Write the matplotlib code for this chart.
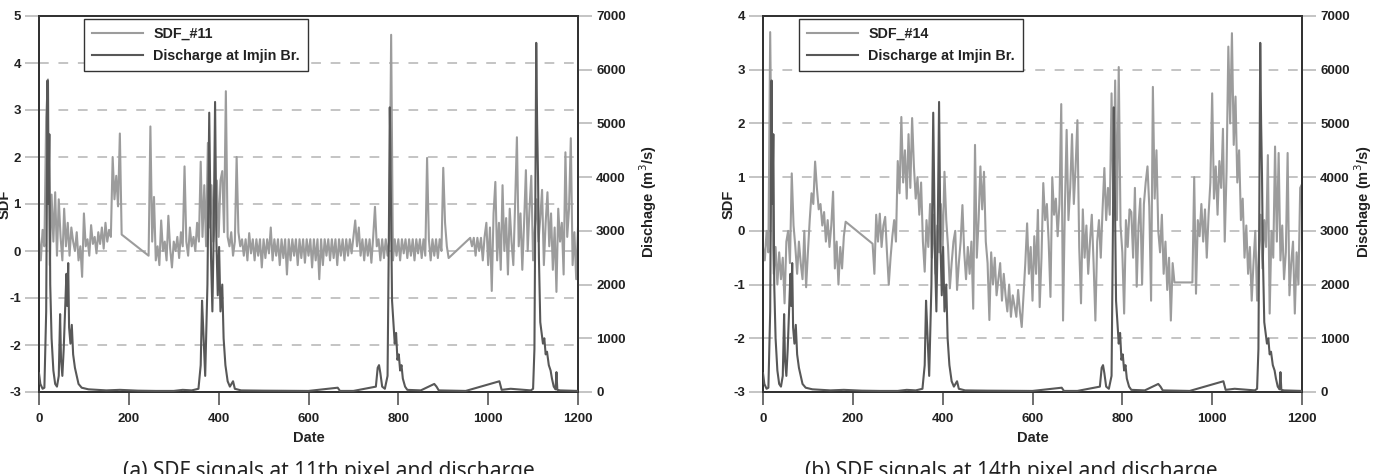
import numpy as np
import matplotlib
matplotlib.use('Agg')
import matplotlib.pyplot as plt

plt.rcParams['font.family'] = ['Liberation Sans', 'DejaVu Sans']
plt.rcParams['axes.unicode_minus'] = False

# ---- data ----
# discharge at Imjin Br. (m3/s), shared by both panels
q_days = [0, 3, 8, 12, 16, 19, 21, 23, 25, 28, 32, 36, 40, 44, 47, 49, 52, 55, 58, 61,
          63, 65, 67, 70, 73, 76, 80, 84, 88, 95, 110, 130, 150, 180, 220, 260, 300, 320,
          340, 355, 360, 363, 366, 370, 375, 379, 383, 386, 389, 392, 395, 398, 401, 404,
          408, 411, 415, 420, 425, 432, 436, 450, 500, 600, 665, 670, 700, 750, 754, 757,
          760, 764, 770, 776, 779, 781, 783, 786, 789, 792, 795, 798, 801, 804, 807, 810,
          815, 820, 850, 880, 885, 890, 950, 1025, 1030, 1050, 1095, 1100, 1103, 1105,
          1107, 1109, 1111, 1113, 1116, 1119, 1122, 1125, 1128, 1131, 1135, 1139, 1142,
          1146, 1150, 1152, 1154, 1160, 1200]
q_vals = [350, 150, 60, 80, 1500, 5800, 3500, 4800, 2000, 1000, 400, 150, 100, 300, 1450,
          600, 300, 800, 1500, 2200, 1600, 2400, 1200, 900, 1250, 700, 450, 300, 150, 80,
          50, 40, 30, 40, 25, 20, 20, 40, 30, 60, 500, 1700, 1100, 300, 2000, 5200, 2500,
          1500, 3000, 5400, 2800, 1800, 2700, 1500, 2000, 1000, 500, 200, 100, 200, 60, 30,
          25, 20, 80, 20, 20, 100, 450, 500, 350, 100, 60, 300, 3000, 5300, 4000, 1700,
          1300, 900, 1100, 600, 700, 400, 500, 250, 100, 40, 30, 150, 100, 30, 20, 200, 40,
          60, 30, 60, 800, 3500, 6500, 5000, 4000, 2500, 1300, 1100, 900, 1000, 700, 750,
          500, 400, 250, 100, 50, 370, 40, 30, 20]

# SDF_#11, sampled every 4 days in three pieces (gaps drawn as straight lines)
sdf11_a = [0.3, -0.2, 0.45, 0.1, 2.85, 3.65, -0.3, 1.2, 0.2, 1.25, -0.1, 1.1, 0.3, -0.2,
           0.9, 0.1, 0.6, -0.1, 0.5, 0.2, 0.0, 0.4, -0.2, 0.1, -0.55, 0.8, 0.1, 0.25, -0.1,
           0.55, 0.15, 0.3, -0.05, 0.4, 0.15, 0.5, 0.05, 0.6, 0.2, 0.45, 0.3, 2.0, 1.1, 1.6,
           0.95, 2.5, 0.35]
sdf11_b = [-0.1, 2.65, 0.2, 1.15, -0.2, 0.1, -0.3, 0.65, 0.0, 0.2, -0.2, 0.75, 0.05, -0.35,
           0.2, 0.0, 0.3, -0.15, 0.4, 0.1, 1.8, 0.2, -0.1, 0.5, 0.1, 0.3, 0.0, 0.6, 0.2, 1.9,
           0.3, 1.4, 0.1, 2.3, 0.5, 1.4, 0.2, 0.6, 1.5, 0.3, 1.5, 1.7, 0.4, 3.4, 0.3, 0.1,
           0.4, -0.1, 0.2, 2.0, 0.4, 0.1, 0.25, -0.1, 0.25, -0.2, 0.38, -0.05, 0.25, -0.2,
           0.25, -0.1, 0.25, -0.35, 0.25, -0.15, 0.25, -0.05, 0.5, -0.2, 0.25, -0.1, 0.25,
           -0.3, 0.25, -0.15, 0.25, -0.5, 0.25, -0.2, 0.25, -0.1, 0.25, -0.3, 0.25, -0.15,
           0.25, -0.25, 0.25, -0.1, 0.25, -0.35, 0.25, -0.2, 0.25, -0.6, 0.25, -0.3, 0.25,
           -0.1, 0.25, -0.2, 0.25, -0.15, 0.25, -0.3, 0.25, -0.1, 0.25, -0.2, 0.25, -0.1,
           0.25, -0.05, 0.3, 0.65, 0.1, 0.5, -0.1, 0.25, -0.2, 0.25, -0.1, 0.25, -0.25, 0.3,
           0.94, 0.1, 0.25, -0.2, 0.25, -0.15, 0.25, -0.1, 0.25, 4.6, -0.2, 0.25, -0.1, 0.25,
           -0.2, 0.25, -0.05, 0.25, -0.15, 0.25, -0.1, 0.25, -0.2, 0.25, -0.05, 0.25, -0.15,
           0.25, -0.1, 1.98, 0.25, -0.2, 0.25, -0.1, 0.25, -0.15, 0.25, 0.0, 1.77, 0.6, 0.1,
           -0.15]
sdf11_c = [0.28, 0.1, 0.28, -0.1, 0.28, 0.0, 0.28, -0.2, 0.3, 0.6, -0.3, 0.5, -0.85, 0.8,
           1.47, -0.2, 0.6, -0.4, 1.4, 0.0, 0.7, -0.5, 0.9, 0.2, -0.3, 1.0, 2.42, 0.1, 0.8,
           -0.4, 0.6, 1.72, 0.0, 0.9, 1.6, -0.2, 0.5, 1.1, 0.2, 0.7, 1.3, -0.3, 0.6, 1.25,
           0.1, 0.8, -0.4, 0.5, -0.87, 0.9, 0.2, 0.6, -0.5, 2.1, 0.3, 0.9, 2.4, -0.3, 0.4,
           -0.6, 0.5]

# SDF_#14
sdf14_a = [-0.3, -0.55, 0.0, -0.4, 3.7, 0.4, -0.8, -0.3, -1.0, -0.4, -0.9, -0.5, -1.35,
           -0.2, 0.0, -0.6, 1.07, 0.1, -0.3, -0.8, -0.2, -0.6, -0.9, 0.0, -1.05, -0.4, 0.2,
           0.7, 0.5, 1.29, 0.8, 0.4, 0.5, 0.1, 0.35, -0.2, 0.2, -0.3, 0.1, 0.73, -0.7, -0.2,
           -1.0, -0.3, -0.7, -0.1, 0.17]
sdf14_b = [-0.24, -0.8, 0.3, -0.2, 0.32, -0.3, 0.1, 0.26, -0.4, -1.0, -0.5, -0.1, 0.2, -0.2,
           1.3, 0.7, 2.12, 0.9, 1.5, 0.6, 1.8, 0.8, 2.1, 1.2, 0.6, 1.0, 0.3, 0.9, -0.2, -0.76,
           0.2, -0.3, 0.5, -0.5, 0.3, -0.8, 0.1, -0.4, 0.5, -0.3, 1.1, 0.2, -0.3, -1.07,
           -0.6, -0.2, 0.0, -1.1, -0.6, -0.2, 0.48, -0.4, -0.9, -0.3, -0.8, -0.2, -1.45, 1.6,
           -0.5, 0.2, 1.2, 0.4, 1.1, -0.2, -0.6, -1.66, -0.4, -1.0, -0.5, -1.2, -0.9, -0.6,
           -1.3, -0.8, -1.2, -1.5, -1.0, -1.6, -1.2, -1.4, -1.6, -1.1, -1.5, -1.79, -1.2,
           -0.6, 0.14, -0.8, -0.3, -1.3, -0.1, -0.8, 0.39, -1.42, -0.5, 0.89, 0.2, 0.5, -0.2,
           -1.23, 1.0, 0.3, 0.6, -0.1, 0.5, 2.36, -1.67, 0.4, 1.88, 0.2, 0.8, 1.8, 0.5, 1.2,
           2.06, -0.3, -1.35, 0.4, -0.5, 0.1, -0.8, -0.2, 0.3, -0.6, -1.67, -0.2, 0.2, -0.5,
           0.4, 1.17, 0.2, 0.8, 0.3, 2.56, 0.5, 2.8, 0.2, 3.05, 0.1, -0.4, -1.54, 0.2, -0.3,
           0.4, 0.35, -0.5, 0.8, -1.04, 0.1, 0.6, -1.0, 0.5, 0.9, 1.2, 0.45, -1.3, 2.68, 0.6,
           1.5, 0.0, -0.4, 0.3, -0.8, -0.2, -1.1, -0.5, -1.67, -0.6, -0.96]
sdf14_c = [-0.96, 1.0, -1.17, 0.2, -0.1, 0.5, -0.2, 0.4, -0.5, 0.3, 0.9, 2.56, 0.6, 1.2, 0.3,
           1.3, 0.8, 1.9, -0.2, 1.1, 3.43, 2.0, 3.68, 1.6, 2.5, 0.9, 1.5, 0.2, 0.6, -0.5, 0.1,
           -0.8, -0.3, -1.3, -0.6, 0.0, -1.3, -0.4, 0.3, -0.7, 0.2, -0.3, 1.41, -1.54, 0.0,
           -0.5, 1.57, -0.2, 1.45, -0.55, 0.1, -0.9, -0.4, 1.45, -1.2, -0.6, -0.2, -1.54,
           -0.4, -1.0, 0.8, 0.87]

STEP = 4


def pieces(starts, parts):
    days, vals = [], []
    for s, p in zip(starts, parts):
        days.append(s + STEP * np.arange(len(p)))
        vals.append(np.array(p))
    return np.concatenate(days), np.concatenate(vals)


d11, s11 = pieces([0, 244, 960], [sdf11_a, sdf11_b, sdf11_c])
d14, s14 = pieces([0, 244, 956], [sdf14_a, sdf14_b, sdf14_c])

# pixel layout of the two panels in the reference
panels = [
    dict(days=d11, sdf=s11, name='SDF_#11', ymax=5, left=39, leg_x=0.083, q_lab=1.11,
         cap_x=0.538, caption='(a) SDF signals at 11th pixel and discharge'),
    dict(days=d14, sdf=s14, name='SDF_#14', ymax=4, left=763, leg_x=0.067, q_lab=1.094,
         cap_x=0.461, caption='(b) SDF signals at 14th pixel and discharge'),
]

W, H = 1377, 474
fig = plt.figure(figsize=(W / 100, H / 100), dpi=100)

SDF_COL = '#9c9c9c'
Q_COL = '#585858'
GRID_COL = '#c4c4c4'
TEXT_COL = '#222222'
TICK_FS = 9.5

for p in panels:
    x0 = p['left'] / W
    w = 539 / W
    ax = fig.add_axes([x0, (H - 392) / H, w, (392 - 16) / H])
    ax2 = ax.twinx()

    l1, = ax.plot(p['days'], p['sdf'], color=SDF_COL, lw=1.5, zorder=2)
    l2, = ax2.plot(q_days, q_vals, color=Q_COL, lw=1.5, zorder=3)

    ax.set_xlim(0, 1200)
    ax.set_ylim(-3, p['ymax'])
    ax2.set_ylim(0, 7000)
    ax.set_xticks(range(0, 1201, 200))
    ax.set_yticks(range(-3, p['ymax'] + 1))
    ax2.set_yticks(range(0, 7001, 1000))

    for yy in range(-2, p['ymax']):
        ax.axhline(yy, color=GRID_COL, lw=1.4, ls=(0, (5, 5)), zorder=1)

    for a in (ax, ax2):
        for sp in a.spines.values():
            sp.set_color('#333333')
            sp.set_linewidth(1.4)
    ax.tick_params(axis='y', direction='out', length=10, width=1.4, color=GRID_COL,
                   labelsize=TICK_FS, pad=3)
    ax2.tick_params(axis='y', direction='out', length=10, width=1.4, color=GRID_COL,
                    labelsize=TICK_FS, pad=3)
    ax.tick_params(axis='x', direction='out', length=9, width=1.2, color='#555555',
                   labelsize=TICK_FS, pad=6)
    for lab in ax.get_xticklabels() + ax.get_yticklabels() + ax2.get_yticklabels():
        lab.set_fontweight('bold')
        lab.set_color(TEXT_COL)

    ax.set_xlabel('Date', fontsize=10.5, fontweight='bold', color=TEXT_COL)
    ax.xaxis.set_label_coords(0.5, -0.105)
    ax.set_ylabel('SDF', fontsize=10.5, fontweight='bold', color=TEXT_COL)
    ax.yaxis.set_label_coords(-0.05, 0.5)
    ax2.set_ylabel('Dischage (m$^3$/s)', fontsize=10.5, fontweight='bold', color=TEXT_COL)
    ax2.yaxis.set_label_coords(p['q_lab'], 0.505)

    leg = ax2.legend([l1, l2], [p['name'], 'Discharge at Imjin Br.'], loc='upper left',
                     bbox_to_anchor=(p['leg_x'], 0.992), borderaxespad=0,
                     fancybox=False, framealpha=1, edgecolor='#333333',
                     prop={'weight': 'bold', 'size': 10.3}, handlelength=3.6,
                     borderpad=0.55, labelspacing=0.6, handletextpad=0.7)
    leg.get_frame().set_linewidth(1.0)
    for t in leg.get_texts():
        t.set_color(TEXT_COL)

    fig.text(x0 + w * p['cap_x'], (H - 461) / H, p['caption'], ha='center', va='top',
             fontsize=15, family=['Noto Sans', 'DejaVu Sans'], color=TEXT_COL)

fig.savefig('out.png', dpi=100)
